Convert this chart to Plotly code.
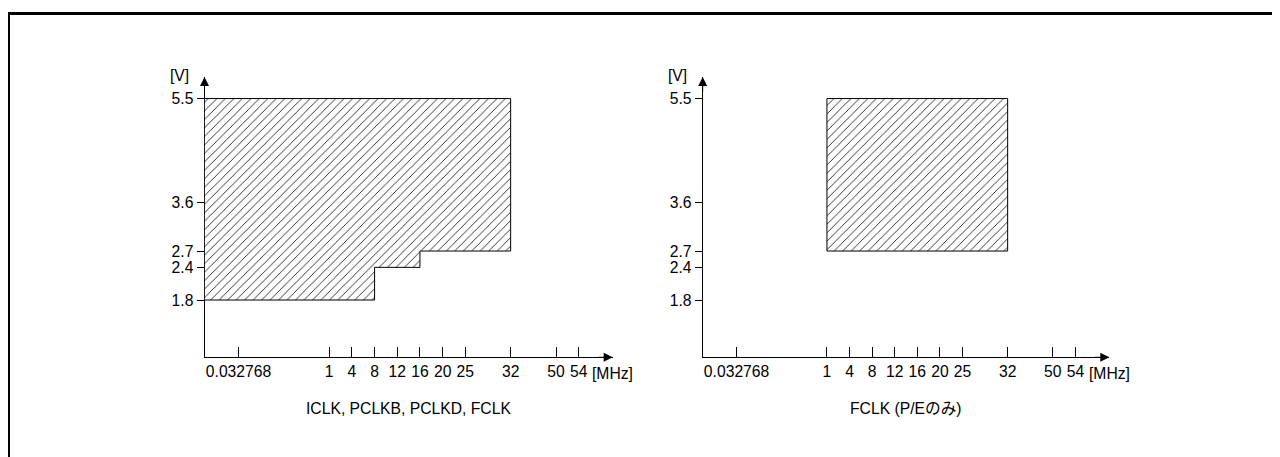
import numpy as np
import plotly.graph_objects as go

# ---------------- data ----------------
freq_ticks = [0.032768, 1, 4, 8, 12, 16, 20, 25, 32, 50, 54]
freq_labels = ["0.032768", "1", "4", "8", "12", "16", "20", "25", "32", "50", "54"]
volt_ticks = [1.8, 2.4, 2.7, 3.6, 5.5]
volt_labels = ["1.8", "2.4", "2.7", "3.6", "5.5"]

# left chart: ICLK, PCLKB, PCLKD, FCLK operating area (stepped)
left_fmax = [8, 16, 32]        # MHz upper limit per step
left_vmin = [1.8, 2.4, 2.7]    # V lower limit per step
left_vmax = 5.5
left_title = "ICLK, PCLKB, PCLKD, FCLK"

# right chart: FCLK (P/E only)
right_fmin = 1
right_fmax = 32
right_vmin = 2.7
right_vmax = 5.5
right_title = "FCLK (P/Eのみ)"

# ---------------- schematic axis mapping (layout) ----------------
OFF = 8  # page body margin
W, H = 1280 - OFF, 457 - OFF
slot_pos = [0, 4, 5, 6, 7, 8, 9, 10, 12, 14, 15]  # schematic (non-linear) tick spacing
x_origin = -1.5
x_end = slot_pos[-1] + 1.5
knot_f = [0] + freq_ticks
knot_s = [x_origin] + slot_pos


def f2x(f):
    return float(np.interp(f, knot_f, knot_s))


def px(x):
    return (x - OFF) / W


def py(y):
    return (H - (y - OFF)) / H


y_lo, y_hi = 0.748, 5.896

# left polygon
lx = [0, left_fmax[-1]]
ly = [left_vmax, left_vmax]
for i in reversed(range(len(left_fmax))):
    lx.append(left_fmax[i]); ly.append(left_vmin[i])
    lx.append(left_fmax[i - 1] if i > 0 else 0); ly.append(left_vmin[i])
lx.append(0); ly.append(left_vmax)

# right polygon
rx = [right_fmin, right_fmax, right_fmax, right_fmin, right_fmin]
ry = [right_vmax, right_vmax, right_vmin, right_vmin, right_vmax]

FONT = "Liberation Sans, Arial, Noto Sans CJK JP, sans-serif"
FS = 15.7

pattern = dict(shape="/", size=6, solidity=0.15, fgcolor="#222", bgcolor="white", fillmode="replace")

fig = go.Figure()
fig.add_trace(go.Scatter(x=[f2x(v) for v in lx], y=ly, xaxis="x", yaxis="y",
                         mode="lines", fill="toself", fillcolor="white", fillpattern=pattern,
                         line=dict(color="black", width=1), hoverinfo="skip", showlegend=False))
fig.add_trace(go.Scatter(x=[f2x(v) for v in rx], y=ry, xaxis="x2", yaxis="y2",
                         mode="lines", fill="toself", fillcolor="white", fillpattern=pattern,
                         line=dict(color="black", width=1), hoverinfo="skip", showlegend=False))

dom_left = [px(204.5), px(612.7)]
dom_right = [px(702.7), px(1109.3)]
ydom = [py(357.3), py(77)]

tickx = [f2x(v) for v in freq_ticks]

xcommon = dict(range=[x_origin, x_end], tickmode="array", tickvals=tickx, ticktext=freq_labels,
               ticks="inside", ticklen=10, tickwidth=1, tickcolor="black",
               showline=True, linecolor="black", linewidth=1, showgrid=False, zeroline=False,
               tickfont=dict(family=FONT, size=FS, color="black"), automargin=False,
               layer="below traces", fixedrange=True)
ycommon = dict(range=[y_lo, y_hi], domain=ydom, tickmode="array", tickvals=volt_ticks, ticktext=volt_labels,
               ticks="outside", ticklen=7, tickwidth=1, tickcolor="black",
               showline=True, linecolor="black", linewidth=1, showgrid=False, zeroline=False,
               tickfont=dict(family=FONT, size=FS, color="black"), automargin=False,
               layer="below traces", fixedrange=True, ticklabelstandoff=0)
yinner = dict(range=[y_lo, y_hi], domain=ydom, tickmode="array", tickvals=volt_ticks,
              ticks="inside", ticklen=7, tickwidth=1, tickcolor="black", showticklabels=False,
              showline=False, showgrid=False, zeroline=False, layer="below traces", fixedrange=True)

fig.update_layout(
    width=W, height=H,
    margin=dict(l=0, r=0, t=0, b=0),
    paper_bgcolor="white", plot_bgcolor="rgba(0,0,0,0)",
    xaxis=dict(domain=dom_left, anchor="y", **xcommon),
    yaxis=dict(anchor="x", **ycommon),
    xaxis2=dict(domain=dom_right, anchor="y2", **xcommon),
    yaxis2=dict(anchor="x2", **ycommon),
    yaxis3=dict(overlaying="y", anchor="x", **yinner),
    yaxis4=dict(overlaying="y2", anchor="x2", **yinner),
    font=dict(family=FONT, size=FS, color="black"),
)

ann = []
for xa, ya, title, dom in [("x", "y", left_title, dom_left), ("x2", "y2", right_title, dom_right)]:
    # arrowheads
    ann.append(dict(x=x_end, y=y_lo, xref=xa, yref=ya, ax=-16, ay=0, axref="pixel", ayref="pixel",
                    showarrow=True, arrowhead=2, arrowsize=1.8, arrowwidth=1, arrowcolor="black", text=""))
    ann.append(dict(x=x_origin, y=y_hi, xref=xa, yref=ya, ax=0, ay=16, axref="pixel", ayref="pixel",
                    showarrow=True, arrowhead=2, arrowsize=1.8, arrowwidth=1, arrowcolor="black", text=""))
    ann.append(dict(x=x_origin, y=y_hi, xref=xa, yref=ya, text="[V]", showarrow=False,
                    xanchor="center", yanchor="middle", xshift=-25, yshift=2,
                    font=dict(family=FONT, size=FS)))
    ann.append(dict(x=x_end, y=y_lo, xref=xa, yref=ya, text="[MHz]", showarrow=False,
                    xanchor="center", yanchor="middle", yshift=-16,
                    font=dict(family=FONT, size=FS)))
    ann.append(dict(x=(dom[0] + dom[1]) / 2, y=py(408), xref="paper", yref="paper", text=title,
                    showarrow=False, xanchor="center", yanchor="middle",
                    font=dict(family=FONT, size=FS)))
fig.update_layout(annotations=ann)

fig.add_shape(type="rect", xref="paper", yref="paper",
              x0=px(8.5), x1=1.05, y0=-0.05, y1=py(13.5),
              line=dict(color="black", width=3), fillcolor="rgba(0,0,0,0)", layer="above")

fig.write_html("out.html", config={"displayModeBar": False})
